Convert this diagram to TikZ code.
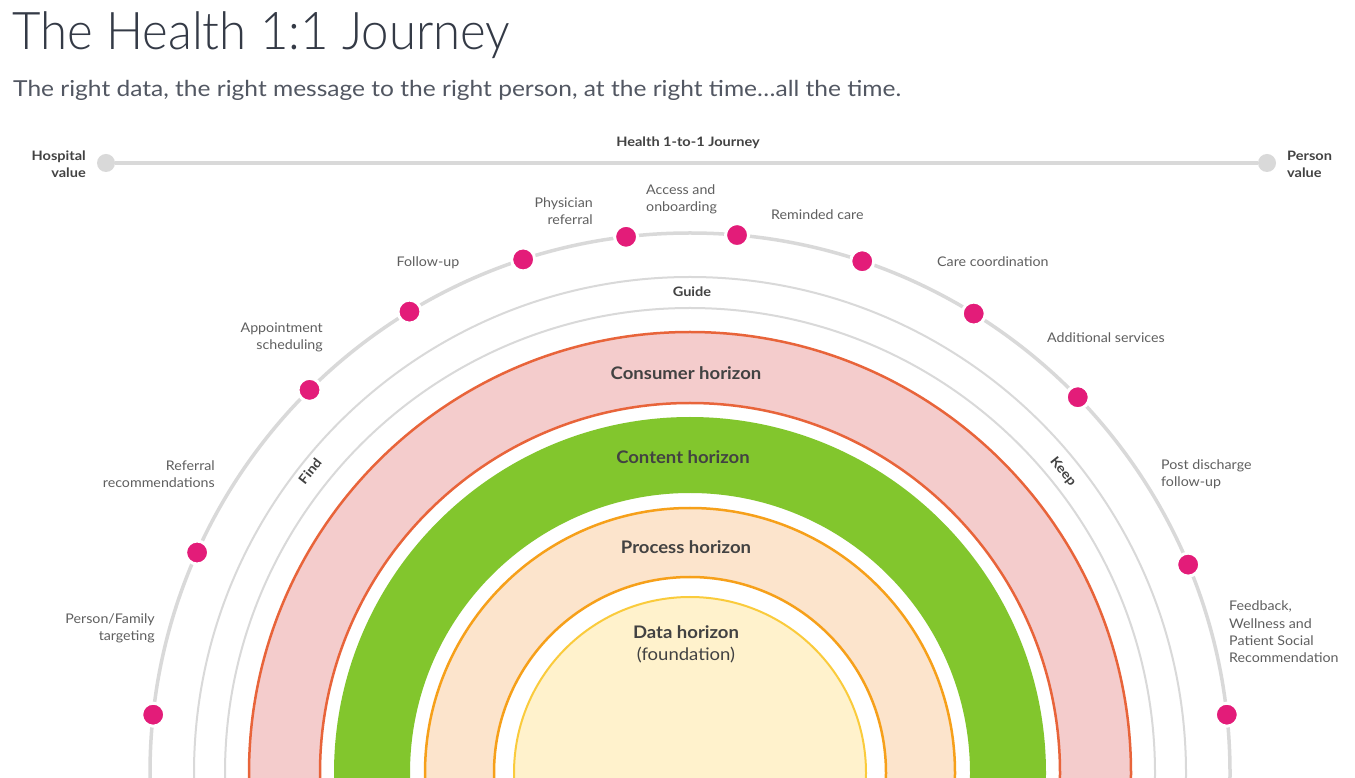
\documentclass[tikz,border=0pt]{standalone}
\usepackage{fontspec}
\setmainfont{Lato}[FakeStretch=1.07]
\newfontfamily\titlefont{Lato Light}[FakeStretch=0.945]
\newfontfamily\subfont{Lato}[FakeStretch=1.115]
\newfontfamily\boldlblfont{Lato}[FakeStretch=1.12]
\definecolor{arcgray}{HTML}{D9D9D9}
\definecolor{dotpink}{HTML}{E31C79}
\definecolor{consfill}{HTML}{F4CCCC}
\definecolor{consline}{HTML}{E8643A}
\definecolor{contgreen}{HTML}{82C62D}
\definecolor{procfill}{HTML}{FCE4CC}
\definecolor{procline}{HTML}{F6A01A}
\definecolor{datafill}{HTML}{FFF2CC}
\definecolor{dataline}{HTML}{FACB3C}
\definecolor{txtgray}{HTML}{5F5F5F}
\definecolor{txtdark}{HTML}{424242}
\definecolor{titlecol}{HTML}{343A46}
\begin{document}
\begin{tikzpicture}[x=1pt,y=1pt,
 lbl/.style={inner sep=0pt, text=txtgray, font=\fontsize{13.3}{17.3}\selectfont},
 blbl/.style={inner sep=0pt, text=txtdark, font=\boldlblfont\fontsize{13}{17}\selectfont\bfseries},
 hlbl/.style={inner sep=0pt, text=txtdark, font=\fontsize{17.3}{22}\selectfont\bfseries},
 pinkdot/.style={circle, fill=dotpink, draw=white, line width=3pt, minimum size=23pt, inner sep=0pt},
 graydot/.style={circle, fill=arcgray, minimum size=18pt, inner sep=0pt},
 bar/.style={arcgray, line width=4pt},
 outerarc/.style={arcgray, line width=3.5pt},
 innerarc/.style={arcgray, line width=2pt}]
\useasboundingbox (0,0) rectangle (1355,777);
\fill[white] (0,0) rectangle (1355,777);
\begin{scope}
\clip (0,0) rectangle (1355,777);
\coordinate (C) at (690,4);
% rings
\fill[consfill, even odd rule] (C) circle (441) (C) circle (370);
\draw[consline, line width=2.5pt] (C) circle (441) (C) circle (370);
\fill[contgreen, even odd rule] (C) circle (356) (C) circle (280);
\fill[procfill, even odd rule] (C) circle (265) (C) circle (196);
\draw[procline, line width=2.5pt] (C) circle (265) (C) circle (196);
\fill[datafill] (C) circle (176);
\draw[dataline, line width=2pt] (C) circle (176);
% gray arcs
\draw[innerarc] (C) circle (465);
\draw[innerarc] (C) circle (496);
\draw[outerarc] (C) circle (540);
\end{scope}
% dots
\node[pinkdot] (d1) at ([shift={(690,4)}]173.8:540) {};
\node[pinkdot] (d2) at ([shift={(690,4)}]155.9:540) {};
\node[pinkdot] (d3) at ([shift={(690,4)}]134.8:540) {};
\node[pinkdot] (d4) at ([shift={(690,4)}]121.3:540) {};
\node[pinkdot] (d5) at ([shift={(690,4)}]108.0:540) {};
\node[pinkdot] (d6) at ([shift={(690,4)}]96.8:540) {};
\node[pinkdot] (d7) at ([shift={(690,4)}]85.0:540) {};
\node[pinkdot] (d8) at ([shift={(690,4)}]71.4:540) {};
\node[pinkdot] (d9) at ([shift={(690,4)}]58.3:540) {};
\node[pinkdot] (d10) at ([shift={(690,4)}]44.1:540) {};
\node[pinkdot] (d11) at ([shift={(690,4)}]22.7:540) {};
\node[pinkdot] (d12) at ([shift={(690,4)}]6.2:540) {};
% top bar
\node[graydot] (hv) at (106,614) {};
\node[graydot] (pv) at (1267,614) {};
\draw[bar] (hv) -- (pv);
\node[blbl, anchor=east, align=right] (hvl) at (86,613) {Hospital\\value};
\node[blbl, anchor=west, align=left] (pvl) at (1287,613) {Person\\value};
\node[blbl] (jt) at (688,634) {Health 1-to-1 Journey};
% title
\node[inner sep=0pt, anchor=base west, text=titlecol, font=\titlefont\fontsize{52}{60}\selectfont] (title) at (12,727) {The Health 1:1 Journey};
\node[inner sep=0pt, anchor=base west, text=titlecol!85, font=\subfont\fontsize{22}{26}\selectfont] (sub) at (13,680) {The right data, the right message to the right person, at the right time\ldots all the time.};
% step labels
\node[lbl, anchor=east, align=right] (l1) at (155,148.5) {Person/Family\\targeting};
\node[lbl, anchor=east, align=right] (l2) at (215,302.5) {Referral\\recommendations};
\node[lbl, anchor=east, align=right] (l3) at (323,439.5) {Appointment\\scheduling};
\node[lbl] (l4) at (428,514) {Follow-up};
\node[lbl, anchor=east, align=right] (l5) at (593,565.5) {Physician\\referral};
\node[lbl, anchor=west, align=left] (l6) at (646,577.5) {Access and\\onboarding};
\node[lbl, anchor=west] (l7) at (771,562) {Reminded care};
\node[lbl, anchor=west] (l8) at (937,515) {Care coordination};
\node[lbl, anchor=west] (l9) at (1047,439) {Additional services};
\node[lbl, anchor=west, align=left] (l10) at (1161,302.5) {Post discharge\\follow-up};
\node[lbl, anchor=west, align=left] (l11) at (1229,145) {Feedback,\\Wellness and\\Patient Social\\Recommendation};
% phase labels
\node[blbl] (guide) at (692,485) {Guide};
\node[blbl, rotate=51.6] (find) at (310,306) {Find};
\node[blbl, rotate=-51] (keep) at (1063,305) {Keep};
% horizon labels
\node[hlbl] (cons) at (686,404) {Consumer horizon};
\node[hlbl] (cont) at (683,320) {Content horizon};
\node[hlbl] (proc) at (686,230) {Process horizon};
\node[hlbl, align=center] (data) at (686,133) {Data horizon\\\mdseries(foundation)};
\end{tikzpicture}
\end{document}
